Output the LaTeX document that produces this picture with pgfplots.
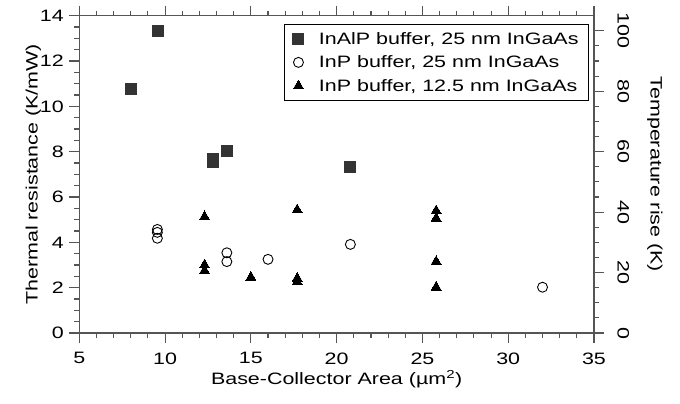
\documentclass[border=0pt]{standalone}
\usepackage{fontspec}
\setmainfont{Liberation Sans}[FakeStretch=1.3]
\usepackage{pgfplots}
\pgfplotsset{compat=1.18}
\definecolor{axgray}{HTML}{555555}
\definecolor{sqgray}{HTML}{333333}
\begin{document}
\begin{tikzpicture}
\pgfplotsset{
  every axis/.append style={font=\fontsize{16.5}{19}\selectfont},
  /pgf/number format/assume math mode=true,
}
\begin{axis}[
  at={(0pt,0pt)}, anchor=south west,
  scale only axis, width=514.7pt, height=317.3pt,
  xmin=5, xmax=35, ymin=0, ymax=14,
  xtick={5,10,...,35}, ytick={0,2,...,14},
  minor x tick num=4, minor y tick num=3,
  xtick pos=both, ytick pos=left,
  tick align=outside,
  major tick length=10pt, minor tick length=5pt,
  axis line style={axgray, line width=1.2pt},
  every tick/.style={axgray, line width=1.1pt},
  xticklabel style={yshift=-6pt},
  yticklabel style={xshift=-2pt},
  xlabel={Base-Collector Area (\textmu m\textsuperscript{2})},
  ylabel={Thermal resistance (K/mW)},
  xlabel style={at={(axis description cs:0.5,0)}, anchor=center, yshift=-46pt},
  ylabel style={at={(axis description cs:0,0.5)}, anchor=center, yshift=46pt},
  legend style={at={(rel axis cs:1,1)}, anchor=north east, xshift=-5pt, yshift=-8pt,
    draw=black, line width=1pt, inner xsep=8pt, inner ysep=6pt,
    font=\fontsize{16.5}{19}\selectfont, row sep=6pt,
    /tikz/every odd column/.style={column sep=13pt}},
  legend cell align=left,
  clip=false,
]
\addplot[only marks, mark=square*, mark size=5.5pt, mark options={fill=sqgray, draw=sqgray, line width=0pt}]
coordinates {(8.0,10.75) (9.6,13.32) (12.8,7.56) (12.8,7.68) (13.6,8.03) (20.8,7.31)};
\addlegendentry{InAlP buffer, 25 nm InGaAs}
\addplot[only marks, mark=o, mark size=5pt, mark options={draw=black, line width=0.9pt}]
coordinates {(9.55,4.57) (9.55,4.44) (9.55,4.18) (13.6,3.54) (13.6,3.15) (16.0,3.25) (20.8,3.91) (32.0,2.02)};
\addlegendentry{InP buffer, 25 nm InGaAs}
\addplot[only marks, mark=triangle*, mark size=5.8pt, mark options={fill=black, draw=black, line width=0pt}]
coordinates {(12.3,5.13) (12.3,3.0) (12.3,2.75) (15.0,2.46) (17.7,5.43) (17.7,2.41) (17.7,2.26)
 (25.8,5.39) (25.8,5.06) (25.8,3.15) (25.8,2.02)};
\addlegendentry{InP buffer, 12.5 nm InGaAs}
\end{axis}
\begin{axis}[
  at={(0pt,0pt)}, anchor=south west,
  scale only axis, width=514.7pt, height=317.3pt,
  xmin=5, xmax=35, ymin=0, ymax=105,
  axis x line=none, axis y line*=right,
  ytick={0,20,...,100}, minor y tick num=3,
  tick align=outside,
  major tick length=10pt, minor tick length=5pt,
  axis line style={axgray, line width=1.2pt, -},
  every tick/.style={axgray, line width=1.1pt},
  yticklabel style={rotate=-90, anchor=south, yshift=10pt},
  ylabel={Temperature rise (K)},
  ylabel style={at={(axis description cs:1,0.5)}, anchor=center, rotate=180, yshift=61pt},
]
\addplot[draw=none] coordinates {(5,0)};
\end{axis}
\pgfresetboundingbox
\useasboundingbox (-79.3pt,-71pt) rectangle (600.7pt,333pt);
\end{tikzpicture}
\end{document}
